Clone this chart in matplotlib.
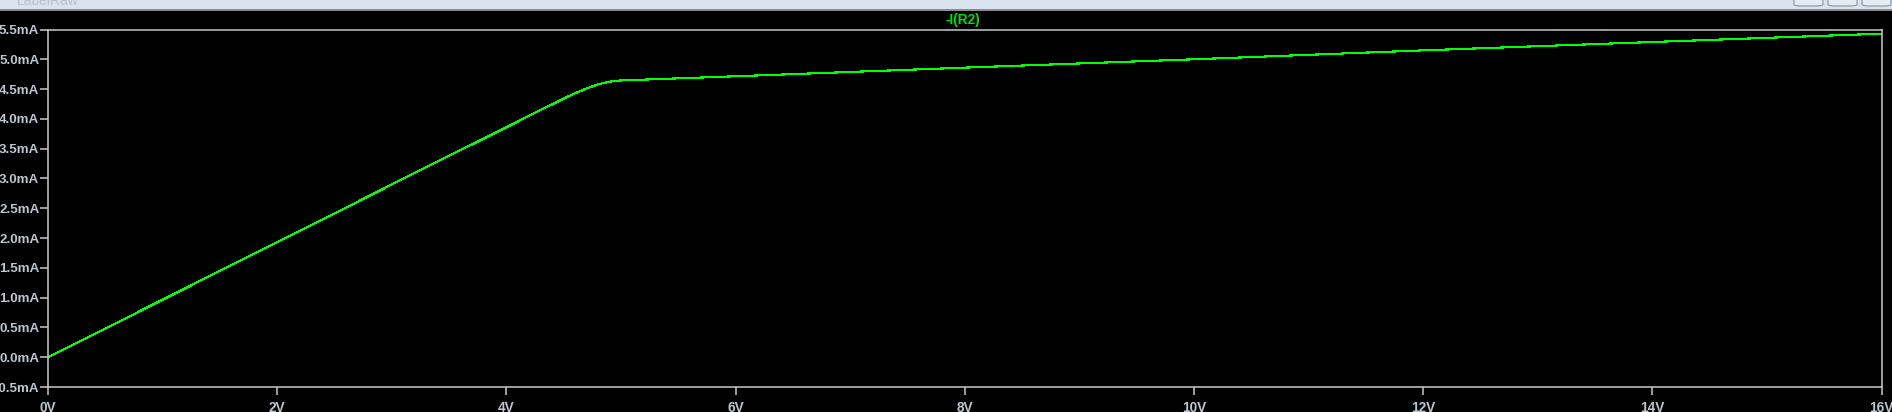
import matplotlib
matplotlib.use("Agg")
import matplotlib.pyplot as plt
from matplotlib.patches import Rectangle, FancyBboxPatch
import numpy as np

# Data
voltage_v = [0, 0.5, 1.0, 1.5, 2.0, 2.5, 3.0, 3.5, 4.0, 4.3, 4.5, 4.6, 4.7, 4.8, 4.9, 5.0,
             6.0, 8.0, 10.0, 12.0, 14.0, 16.0]
current_ma = [0.0, 0.48, 0.965, 1.45, 1.93, 2.41, 2.90, 3.38, 3.86, 4.15, 4.34, 4.43, 4.51, 4.58, 4.625, 4.645,
              4.715, 4.86, 5.00, 5.15, 5.29, 5.43]
x_ticks = [0, 2, 4, 6, 8, 10, 12, 14, 16]
x_tick_labels = ["0V", "2V", "4V", "6V", "8V", "10V", "12V", "14V", "16V"]
y_ticks = [-0.5, 0.0, 0.5, 1.0, 1.5, 2.0, 2.5, 3.0, 3.5, 4.0, 4.5, 5.0, 5.5]
y_tick_labels = ["-0.5mA", "0.0mA", "0.5mA", "1.0mA", "1.5mA", "2.0mA", "2.5mA", "3.0mA",
                 "3.5mA", "4.0mA", "4.5mA", "5.0mA", "5.5mA"]
trace_name = "-I(R2)"

W, H = 1892, 412
fig = plt.figure(figsize=(W / 100, H / 100), dpi=100, facecolor="black")

# window strip at top
fig.patches.append(Rectangle((0, 1 - 9 / H), 1, 9 / H, transform=fig.transFigure,
                             facecolor="#d9e3ee", edgecolor="none", zorder=0))
fig.patches.append(Rectangle((0, 1 - 11 / H), 1, 2 / H, transform=fig.transFigure,
                             facecolor="#8c8c8c", edgecolor="none", zorder=0))
for bx in [1794, 1828, 1862]:
    fig.patches.append(FancyBboxPatch((bx / W, 1 - 6 / H), 29 / W, 10 / H,
                                      boxstyle="round,pad=0,rounding_size=0.004",
                                      transform=fig.transFigure, facecolor="#e4ebf3",
                                      edgecolor="#8a96a4", linewidth=0.8, zorder=1))
fig.text(17 / W, 1 - 5 / H, "LabelRaw", color="#b9c2cc", fontsize=10,
         va="baseline", ha="left", family="Liberation Sans")

left, right, top, bottom = 48, 1881.6, 29.5, 387
ax = fig.add_axes([left / W, 1 - bottom / H, (right - left) / W, (bottom - top) / H])
ax.set_facecolor("black")
ax.plot(voltage_v, current_ma, color="#00ff00", linewidth=0.8, antialiased=False)
ax.set_xlim(0, 16)
ax.set_ylim(-0.5, 5.5)
ax.set_xticks(x_ticks)
ax.set_xticklabels(x_tick_labels)
ax.set_yticks(y_ticks)
ax.set_yticklabels(y_tick_labels)
for s in ax.spines.values():
    s.set_color("#c8c8c8")
    s.set_linewidth(1.1)
lab = "#bcc6d0"
ax.tick_params(axis="both", colors="#c8c8c8", length=5.8, width=1.1, direction="out")
ax.tick_params(axis="y", pad=0.5, labelcolor=lab, labelsize=9.6)
ax.tick_params(axis="x", pad=4, labelcolor=lab, labelsize=9.8)
for t in ax.get_xticklabels() + ax.get_yticklabels():
    t.set_family("Liberation Sans")
    t.set_fontweight("bold")

fig.text(963 / W, 1 - 20 / H, trace_name, color="#00e000", fontsize=9.8,
         ha="center", va="center", family="Liberation Sans", fontweight="bold")

fig.savefig("out.png", dpi=100, facecolor="black")
